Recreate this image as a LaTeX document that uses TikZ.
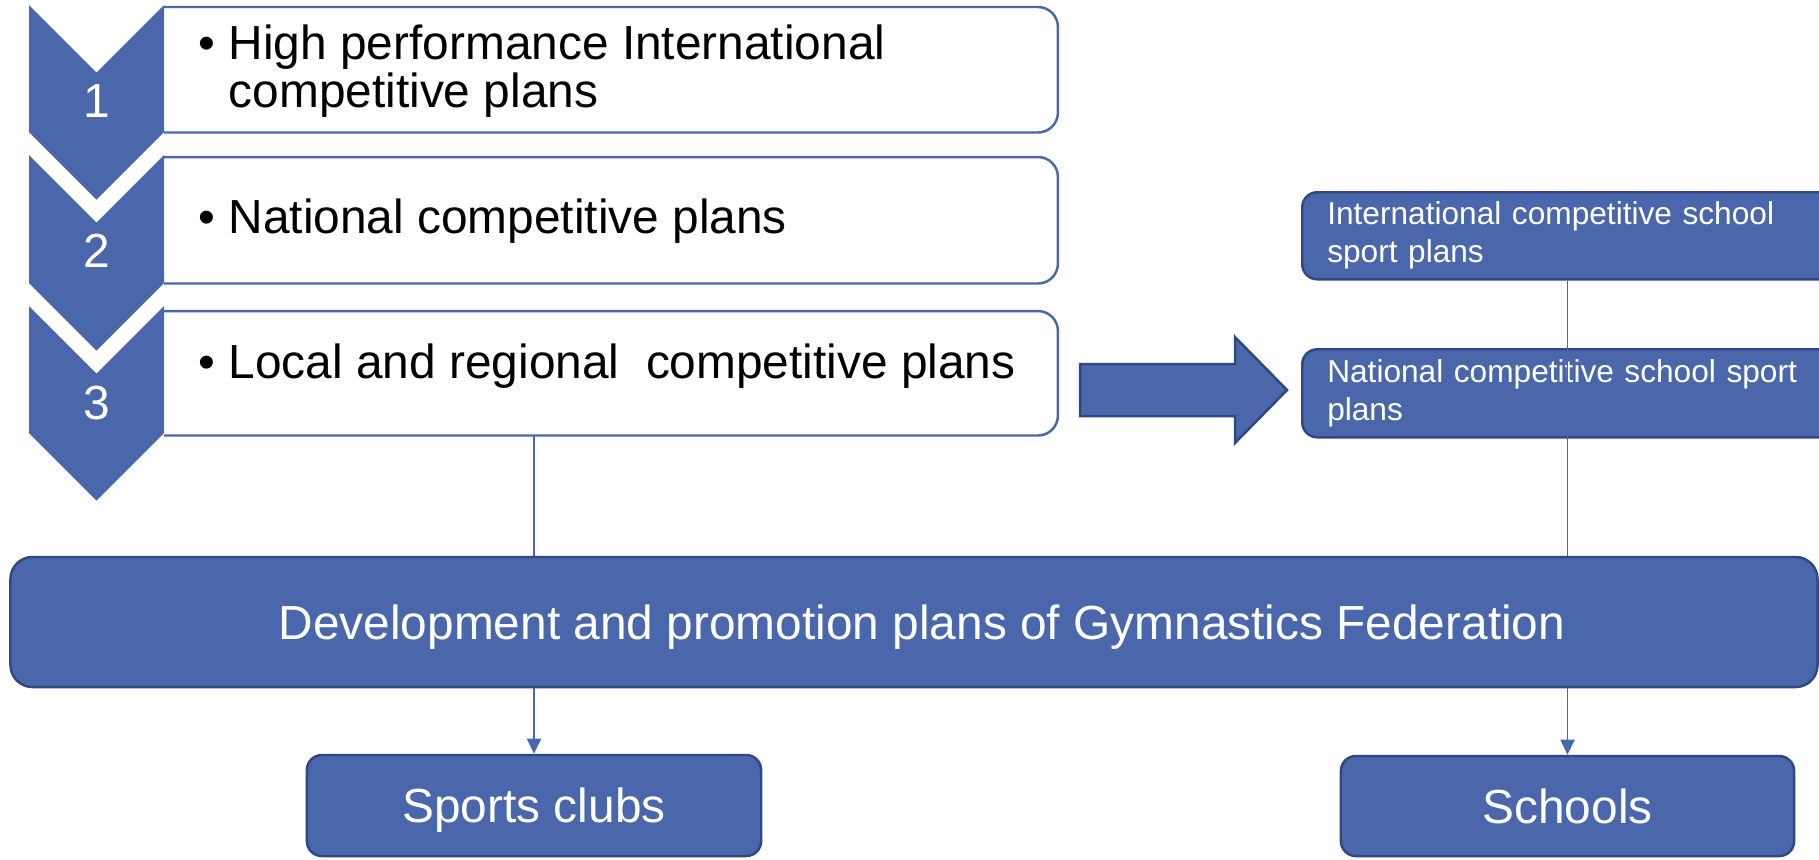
\documentclass[tikz,border=0pt]{standalone}
\usepackage{fontspec}
\setmainfont{Liberation Sans}
\usetikzlibrary{arrows.meta}
\definecolor{planblue}{RGB}{74,103,172}
\definecolor{planedge}{RGB}{47,72,130}

\begin{document}
\begin{tikzpicture}[x=0.01cm, y=-0.01cm,
              stageline/.style={draw=planblue, line width=0.7pt, rounded corners=0.2cm},
              chevron/.style={fill=planblue, draw=none},
              bluebox/.style={fill=planblue, draw=planedge, line width=0.7pt, rounded corners=0.15cm, text=white, inner sep=0pt},
              capline/.style={text height=9.7pt, text depth=0pt},
              link/.style={draw=planblue, line width=0.5pt},
              big/.style={font=\fontsize{13.6}{13.7}\selectfont},
              small/.style={font=\fontsize{9}{10.8}\selectfont}]

              \useasboundingbox (0,0) rectangle (1819,859);
              \clip (0,0) rectangle (1819,859);

              \node[minimum width=8.92cm, minimum height=1.24cm, anchor=north west, inner sep=0pt] (stage1) at (164,7) {};
              \node[minimum width=8.92cm, minimum height=1.25cm, anchor=north west, inner sep=0pt] (stage2) at (164,157) {};
              \node[minimum width=8.92cm, minimum height=1.23cm, anchor=north west, inner sep=0pt] (stage3) at (164,311) {};

              \draw[stageline] (stage1.north west) -- (stage1.north east) -- (stage1.south east) -- (stage1.south west);
              \draw[stageline] (stage2.north west) -- (stage2.north east) -- (stage2.south east) -- (stage2.south west);
              \draw[stageline] (stage3.north west) -- (stage3.north east) -- (stage3.south east) -- (stage3.south west);

              \node[big, anchor=west, align=left, inner sep=0pt] (text1) at (198,71) {\makebox[0.3cm][l]{\textbullet}High performance International\\\hspace*{0.3cm}competitive plans};
              \node[big, anchor=base west, inner sep=0pt] (text2) at (198,233) {\makebox[0.3cm][l]{\textbullet}National competitive plans};
              \node[big, anchor=base west, inner sep=0pt] (text3) at (198,378) {\makebox[0.3cm][l]{\textbullet}Local and regional\ \ competitive plans};

              \filldraw[chevron] (29,5) -- (96.5,72.5) -- (164,5) -- (164,132) -- (96.5,199.5) -- (29,132) -- cycle;
              \filldraw[chevron] (29,155) -- (96.5,222.5) -- (164,155) -- (164,283) -- (96.5,350.5) -- (29,283) -- cycle;
              \filldraw[chevron] (29,306) -- (96.5,373.5) -- (164,306) -- (164,433) -- (96.5,500.5) -- (29,433) -- cycle;

              \node[big, capline, text=white, inner sep=0pt] (num1) at (96.5,100) {1};
              \node[big, capline, text=white, inner sep=0pt] (num2) at (96.5,250) {2};
              \node[big, capline, text=white, inner sep=0pt] (num3) at (96.5,402) {3};

              \filldraw[fill=planblue, draw=planedge, line width=0.7pt] (1080,364) -- (1235,364) -- (1235,337) -- (1287,390) -- (1235,443) -- (1235,416) -- (1080,416) -- cycle;

              \node[bluebox, small, anchor=north west, minimum width=5.4cm, minimum height=0.87cm, text width=4.9cm, align=left, inner xsep=0.25cm] (intschool) at (1301,191) {International competitive school\\sport plans};
              \node[bluebox, small, anchor=north west, minimum width=5.4cm, minimum height=0.88cm, text width=4.9cm, align=left, inner xsep=0.25cm] (natschool) at (1301,348) {National competitive school sport\\plans};

              \node[bluebox, big, capline, minimum width=18.06cm, minimum height=1.30cm, rounded corners=0.22cm] (federation) at (914,622) {\hspace*{0.16cm}Development and promotion plans of Gymnastics Federation};

              \node[bluebox, big, capline, minimum width=4.54cm, minimum height=1.01cm] (clubs) at (534,805.5) {Sports clubs};
              \node[bluebox, big, capline, minimum width=4.53cm, minimum height=1.00cm] (schools) at (1567.5,806) {Schools};

              \draw[link] (stage3.south -| clubs.north) -- (federation.north -| clubs.north);
              \draw[link, -{Triangle[width=4pt,length=4.3pt]}] (federation.south -| clubs.north) -- (clubs.north);
              \draw[link] (intschool.south -| schools.north) -- (federation.north -| schools.north);
              \draw[link, -{Triangle[width=4pt,length=4.3pt]}] (federation.south -| schools.north) -- (schools.north);

\end{tikzpicture}
\end{document}
